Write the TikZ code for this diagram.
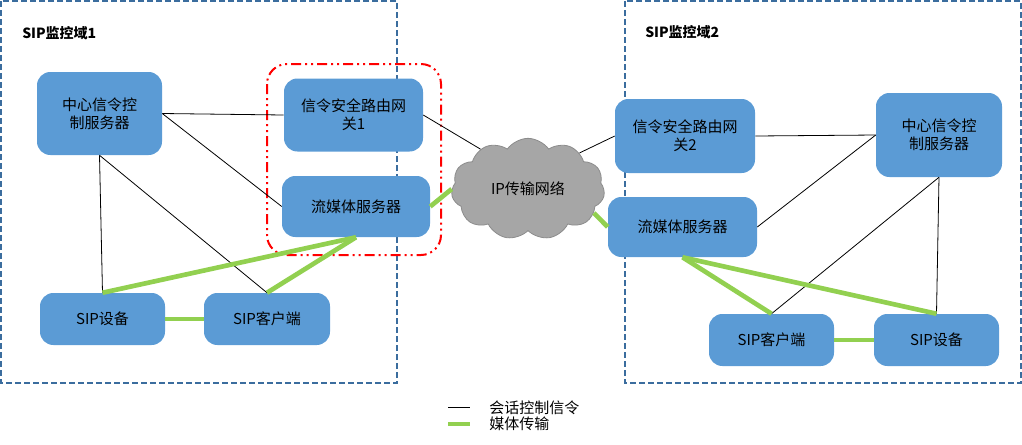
\documentclass[tikz,border=0pt]{standalone}
\usepackage{fontspec}
\setmainfont{Noto Sans CJK SC}
\usetikzlibrary{shapes.symbols}
\definecolor{nodeblue}{HTML}{5B9BD5}
\definecolor{mgreen}{HTML}{92D050}
\definecolor{domline}{HTML}{3B6D9E}
\definecolor{cloudfill}{HTML}{A6A6A6}
\definecolor{cloudline}{HTML}{8C8C8C}
\begin{document}
\begin{tikzpicture}[x=0.75pt,y=-0.75pt,
  box/.style={fill=nodeblue, rounded corners=10pt, align=center, inner sep=0pt,
    font=\fontsize{11.25}{13.5}\selectfont},
  sig/.style={draw=black, line width=0.6pt},
  media/.style={draw=mgreen, line width=3.5pt},
  zonebox/.style={draw=domline, dash pattern=on 4.5pt off 2.25pt, line width=0.8pt},
  domlabel/.style={anchor=west, inner sep=0pt, font=\fontsize{10.5}{12}\selectfont\bfseries},
  legtext/.style={anchor=west, inner sep=0pt, font=\fontsize{11.25}{13.5}\selectfont},
  redbox/.style={draw=red, line width=1.5pt, rounded corners=15pt,
    dash pattern=on 7.5pt off 3pt on 1.5pt off 3pt on 1.5pt off 3pt}]
\useasboundingbox (0,0) rectangle (1022,444);
% domains
\draw[zonebox] (1,1) rectangle (397,383);
\draw[zonebox] (625,1) rectangle (1021,383);
\node[domlabel] (lab1) at (22,33) {SIP监控域1};
\node[domlabel] (lab2) at (645,32) {SIP监控域2};
% red group
\draw[redbox] (267,64) rectangle (441,255);
% nodes
\node[box, minimum width=93.75pt, minimum height=62.25pt] (c1) at (99.5,113.5) {中心信令控\\制服务器};
\node[box, minimum width=104.25pt, minimum height=54.75pt] (g1) at (353.5,115) {信令安全路由网\\关1};
\node[box, minimum width=111pt, minimum height=45.75pt] (s1) at (356,206.5) {流媒体服务器};
\node[box, minimum width=93.75pt, minimum height=39pt] (d1) at (102.5,319) {SIP设备};
\node[box, minimum width=94.5pt, minimum height=39pt] (k1) at (267,319) {SIP客户端};
\node[box, minimum width=105pt, minimum height=55.5pt] (g2) at (685,136) {信令安全路由网\\关2};
\node[box, minimum width=94.5pt, minimum height=63pt] (c2) at (939,135) {中心信令控\\制服务器};
\node[box, minimum width=111.75pt, minimum height=45pt] (s2) at (682.5,227) {流媒体服务器};
\node[box, minimum width=93.75pt, minimum height=39pt] (k2) at (771.5,340) {SIP客户端};
\node[box, minimum width=93.75pt, minimum height=39pt] (d2) at (936.5,340) {SIP设备};
% cloud
\node[cloud, cloud puffs=11, cloud puff arc=110, cloud ignores aspect,
  fill=cloudfill, draw=cloudline, line width=0.6pt,
  minimum width=115pt, minimum height=76pt, inner sep=0pt,
  font=\fontsize{11.25}{13.5}\selectfont] (net) at (528,189) {IP传输网络};
% signalling
\draw[sig] (c1.east) -- (g1.west);
\draw[sig] (c1.east) -- (s1.west);
\draw[sig] (c1.south) -- (d1.north);
\draw[sig] (c1.south) -- (k1.north);
\draw[sig] (g1.east) -- (net.140);
\draw[sig] (net.35) -- (g2.west);
\draw[sig] (g2.east) -- (c2.west);
\draw[sig] (s2.east) -- (c2.west);
\draw[sig] (c2.south) -- (k2.north);
\draw[sig] (c2.south) -- (d2.north);
% media
\draw[media] (s1.south) -- (d1.north);
\draw[media] (s1.south) -- (k1.north);
\draw[media] (d1.east) -- (k1.west);
\draw[media] (s1.east) -- (net.180);
\draw[media] (net.-20) -- (s2.west);
\draw[media] (s2.south) -- (k2.north);
\draw[media] (s2.south) -- (d2.north);
\draw[media] (k2.east) -- (d2.west);
% legend
\coordinate (la) at (448,407);
\coordinate (lb) at (470,407);
\coordinate (lc) at (448,424);
\coordinate (ld) at (470,424);
\draw[sig] (la) -- (lb);
\draw[media] (lc) -- (ld);
\node[legtext] (t1) at (489,408) {会话控制信令};
\node[legtext] (t2) at (489,424) {媒体传输};
\end{tikzpicture}
\end{document}
